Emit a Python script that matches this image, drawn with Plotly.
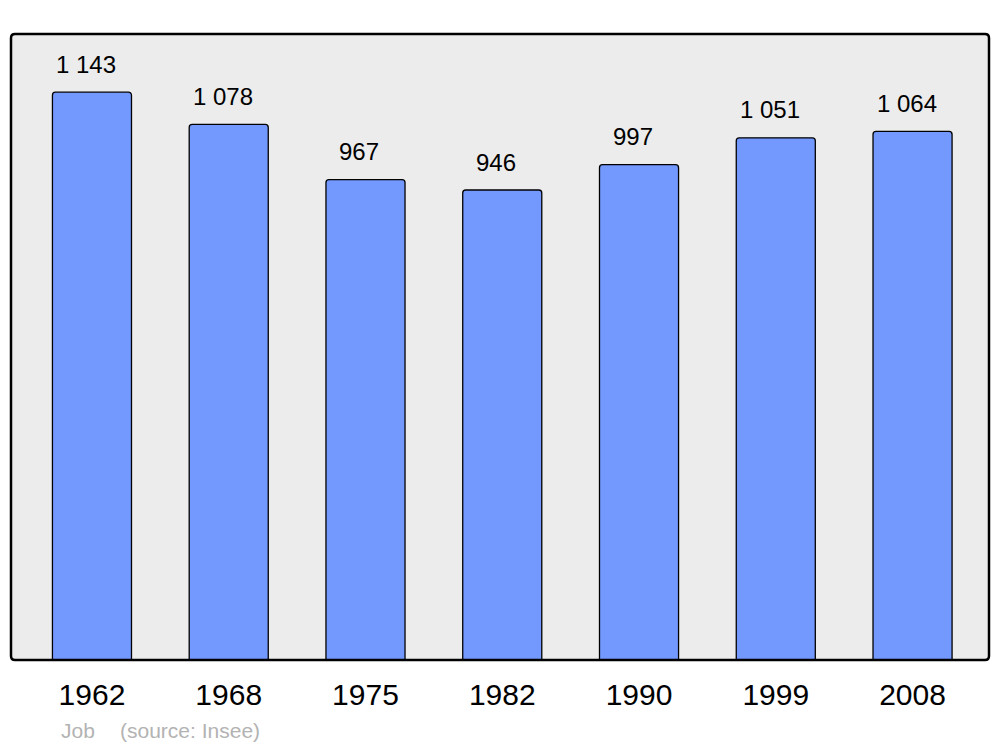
import plotly.graph_objects as go

years = ["1962", "1968", "1975", "1982", "1990", "1999", "2008"]
population = [1143, 1078, 967, 946, 997, 1051, 1064]
value_labels = ["1 143", "1 078", "967", "946", "997", "1 051", "1 064"]

FONT = "Liberation Sans, Arial"

fig = go.Figure()
fig.add_trace(go.Bar(
    x=years, y=population, width=0.578,
    marker=dict(color="#7399ff", line=dict(color="#000000", width=1.3), cornerradius=3),
    hoverinfo="x+y",
))

for i, (v, lab) in enumerate(zip(population, value_labels)):
    fig.add_annotation(x=i, y=v, text=lab, showarrow=False, yshift=28, xshift=-6,
                       font=dict(family=FONT, size=24, color="#000000"))

fig.add_annotation(xref="paper", yref="paper", x=0.049, y=0, yanchor="middle", xanchor="left",
                   yshift=-70, text="Job", showarrow=False,
                   font=dict(family=FONT, size=21, color="#b3b3b3"))
fig.add_annotation(xref="paper", yref="paper", x=0.109, y=0, yanchor="middle", xanchor="left",
                   yshift=-70, text="(source: Insee)", showarrow=False,
                   font=dict(family=FONT, size=21, color="#b3b3b3"))

rx, ry = 4 / 978, 4 / 626
path = (f"M {rx},0 L {1-rx},0 Q 1,0 1,{ry} L 1,{1-ry} Q 1,1 {1-rx},1 "
        f"L {rx},1 Q 0,1 0,{1-ry} L 0,{ry} Q 0,0 {rx},0 Z")
fig.add_shape(type="path", xref="paper", yref="paper", path=path,
              line=dict(color="#000000", width=2.5), layer="above")

fig.update_layout(
    width=992, height=739,
    margin=dict(l=3, r=11, t=26, b=87),
    paper_bgcolor="#ffffff", plot_bgcolor="#ececec",
    showlegend=False,
    xaxis=dict(type="category", range=[-0.592, 6.559], showgrid=False, zeroline=False,
               ticks="", showline=False, ticklabelstandoff=14,
               tickfont=dict(family=FONT, size=30, color="#000000")),
    yaxis=dict(range=[0, 1260], showgrid=False, zeroline=False, showticklabels=False,
               ticks="", showline=False),
)

fig.write_html("out.html")
